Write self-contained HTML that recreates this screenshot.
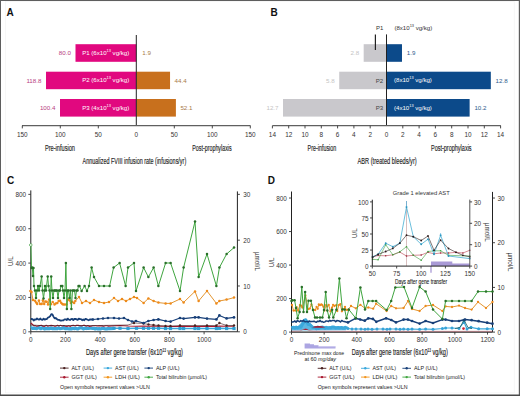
<!DOCTYPE html>
<html><head><meta charset="utf-8"><style>
html,body{margin:0;padding:0;background:#fff;}
svg{display:block;font-family:"Liberation Sans", sans-serif;}
</style></head><body>
<svg width="520" height="396" viewBox="0 0 520 396">
<rect width="520" height="396" fill="#fff"/>
<rect x="5.3" y="1.5" width="508.9" height="391.4" fill="none" stroke="#f2f2f2" stroke-width="0.6"/>
<text x="6.50" y="15.70" font-size="10" fill="#111" text-anchor="start" font-weight="bold">A</text>
<rect x="75.50" y="44.20" width="60.80" height="17.60" fill="#e1087f"/>
<text x="70.90" y="55.20" font-size="6.2" fill="#b8407f" text-anchor="end">80.0</text>
<text x="142.24" y="55.20" font-size="6.2" fill="#a87a48" text-anchor="start">1.9</text>
<text x="129.2" y="54.90" font-size="6.1" fill="#fff" text-anchor="end">P1 (6x10<tspan dy="-3.0" font-size="3.9">13</tspan><tspan dy="3.0"> vg/kg)</tspan></text>
<rect x="46.01" y="71.70" width="90.29" height="17.50" fill="#e1087f"/>
<rect x="136.30" y="71.70" width="33.74" height="17.50" fill="#c8701d"/>
<text x="41.41" y="82.65" font-size="6.2" fill="#b8407f" text-anchor="end">118.8</text>
<text x="174.54" y="82.65" font-size="6.2" fill="#a87a48" text-anchor="start">44.4</text>
<text x="129.2" y="82.35" font-size="6.1" fill="#fff" text-anchor="end">P2 (6x10<tspan dy="-3.0" font-size="3.9">13</tspan><tspan dy="3.0"> vg/kg)</tspan></text>
<rect x="60.00" y="99.00" width="76.30" height="17.60" fill="#e1087f"/>
<rect x="136.30" y="99.00" width="39.60" height="17.60" fill="#c8701d"/>
<text x="55.40" y="110.00" font-size="6.2" fill="#b8407f" text-anchor="end">100.4</text>
<text x="180.40" y="110.00" font-size="6.2" fill="#a87a48" text-anchor="start">52.1</text>
<text x="129.2" y="109.70" font-size="6.1" fill="#fff" text-anchor="end">P3 (4x10<tspan dy="-3.0" font-size="3.9">13</tspan><tspan dy="3.0"> vg/kg)</tspan></text>
<line x1="136.30" y1="35.00" x2="136.30" y2="125.70" stroke="#222" stroke-width="1" />
<line x1="22.00" y1="125.70" x2="250.50" y2="125.70" stroke="#606060" stroke-width="1.3" />
<line x1="22.30" y1="125.70" x2="22.30" y2="128.40" stroke="#333" stroke-width="0.9" />
<text x="22.30" y="137.20" font-size="6.4" fill="#333" text-anchor="middle">150</text>
<line x1="60.30" y1="125.70" x2="60.30" y2="128.40" stroke="#333" stroke-width="0.9" />
<text x="60.30" y="137.20" font-size="6.4" fill="#333" text-anchor="middle">100</text>
<line x1="98.30" y1="125.70" x2="98.30" y2="128.40" stroke="#333" stroke-width="0.9" />
<text x="98.30" y="137.20" font-size="6.4" fill="#333" text-anchor="middle">50</text>
<text x="136.30" y="137.20" font-size="6.4" fill="#333" text-anchor="middle">0</text>
<line x1="174.30" y1="125.70" x2="174.30" y2="128.40" stroke="#333" stroke-width="0.9" />
<text x="174.30" y="137.20" font-size="6.4" fill="#333" text-anchor="middle">50</text>
<line x1="212.30" y1="125.70" x2="212.30" y2="128.40" stroke="#333" stroke-width="0.9" />
<text x="212.30" y="137.20" font-size="6.4" fill="#333" text-anchor="middle">100</text>
<line x1="250.30" y1="125.70" x2="250.30" y2="128.40" stroke="#333" stroke-width="0.9" />
<text x="250.30" y="137.20" font-size="6.4" fill="#333" text-anchor="middle">150</text>
<text x="45.00" y="150.60" font-size="8.3" fill="#222" text-anchor="start" textLength="30" lengthAdjust="spacingAndGlyphs"  stroke="#222" stroke-width="0.15">Pre-infusion</text>
<text x="192.30" y="150.60" font-size="8.3" fill="#222" text-anchor="start" textLength="39.4" lengthAdjust="spacingAndGlyphs"  stroke="#222" stroke-width="0.15">Post-prophylaxis</text>
<text x="82.60" y="163.90" font-size="8.3" fill="#222" text-anchor="start" textLength="103.6" lengthAdjust="spacingAndGlyphs"  stroke="#222" stroke-width="0.15">Annualized FVIII infusion rate (infusions/yr)</text>
<text x="270.40" y="16.00" font-size="10" fill="#111" text-anchor="start" font-weight="bold">B</text>
<rect x="363.68" y="44.20" width="22.82" height="17.60" fill="#c9c8cc"/>
<rect x="386.50" y="44.20" width="15.48" height="17.60" fill="#0c4a8a"/>
<text x="359.18" y="55.20" font-size="6.2" fill="#c4c4c4" text-anchor="end">2.8</text>
<text x="406.79" y="55.20" font-size="6.2" fill="#2c5a8c" text-anchor="start">1.9</text>
<rect x="339.23" y="71.70" width="47.27" height="17.50" fill="#c9c8cc"/>
<rect x="386.50" y="71.70" width="104.32" height="17.50" fill="#0c4a8a"/>
<text x="334.73" y="82.65" font-size="6.2" fill="#c4c4c4" text-anchor="end">5.8</text>
<text x="495.62" y="82.65" font-size="6.2" fill="#2c5a8c" text-anchor="start">12.8</text>
<text x="383.20" y="82.65" font-size="6.1" fill="#444" text-anchor="end">P2</text>
<text x="394" y="82.25" font-size="6.1" fill="#fff">(8x10<tspan dy="-3.0" font-size="3.9">13</tspan><tspan dy="3.0"> vg/kg)</tspan></text>
<rect x="283.00" y="99.00" width="103.50" height="17.60" fill="#c9c8cc"/>
<rect x="386.50" y="99.00" width="83.13" height="17.60" fill="#0c4a8a"/>
<text x="278.50" y="110.00" font-size="6.2" fill="#c4c4c4" text-anchor="end">12.7</text>
<text x="474.43" y="110.00" font-size="6.2" fill="#2c5a8c" text-anchor="start">10.2</text>
<text x="383.20" y="110.00" font-size="6.1" fill="#444" text-anchor="end">P3</text>
<text x="394" y="109.60" font-size="6.1" fill="#fff">(4x10<tspan dy="-3.0" font-size="3.9">13</tspan><tspan dy="3.0"> vg/kg)</tspan></text>
<text x="376.00" y="30.20" font-size="6.0" fill="#333" text-anchor="start">P1</text>
<text x="394.4" y="30.3" font-size="6.1" fill="#333">(8x10<tspan dy="-3.0" font-size="3.9">13</tspan><tspan dy="3.0"> vg/kg)</tspan></text>
<line x1="375.40" y1="34.50" x2="375.40" y2="50.00" stroke="#222" stroke-width="1.2" />
<line x1="386.50" y1="34.40" x2="386.50" y2="125.70" stroke="#222" stroke-width="1" />
<line x1="272.40" y1="125.70" x2="500.80" y2="125.70" stroke="#606060" stroke-width="1.3" />
<line x1="272.40" y1="125.70" x2="272.40" y2="128.40" stroke="#333" stroke-width="0.9" />
<text x="272.40" y="137.20" font-size="6.4" fill="#333" text-anchor="middle">14</text>
<line x1="288.70" y1="125.70" x2="288.70" y2="128.40" stroke="#333" stroke-width="0.9" />
<text x="288.70" y="137.20" font-size="6.4" fill="#333" text-anchor="middle">12</text>
<line x1="305.00" y1="125.70" x2="305.00" y2="128.40" stroke="#333" stroke-width="0.9" />
<text x="305.00" y="137.20" font-size="6.4" fill="#333" text-anchor="middle">10</text>
<line x1="321.30" y1="125.70" x2="321.30" y2="128.40" stroke="#333" stroke-width="0.9" />
<text x="321.30" y="137.20" font-size="6.4" fill="#333" text-anchor="middle">8</text>
<line x1="337.60" y1="125.70" x2="337.60" y2="128.40" stroke="#333" stroke-width="0.9" />
<text x="337.60" y="137.20" font-size="6.4" fill="#333" text-anchor="middle">6</text>
<line x1="353.90" y1="125.70" x2="353.90" y2="128.40" stroke="#333" stroke-width="0.9" />
<text x="353.90" y="137.20" font-size="6.4" fill="#333" text-anchor="middle">4</text>
<line x1="370.20" y1="125.70" x2="370.20" y2="128.40" stroke="#333" stroke-width="0.9" />
<text x="370.20" y="137.20" font-size="6.4" fill="#333" text-anchor="middle">2</text>
<text x="386.50" y="137.20" font-size="6.4" fill="#333" text-anchor="middle">0</text>
<line x1="402.80" y1="125.70" x2="402.80" y2="128.40" stroke="#333" stroke-width="0.9" />
<text x="402.80" y="137.20" font-size="6.4" fill="#333" text-anchor="middle">2</text>
<line x1="419.10" y1="125.70" x2="419.10" y2="128.40" stroke="#333" stroke-width="0.9" />
<text x="419.10" y="137.20" font-size="6.4" fill="#333" text-anchor="middle">4</text>
<line x1="435.40" y1="125.70" x2="435.40" y2="128.40" stroke="#333" stroke-width="0.9" />
<text x="435.40" y="137.20" font-size="6.4" fill="#333" text-anchor="middle">6</text>
<line x1="451.70" y1="125.70" x2="451.70" y2="128.40" stroke="#333" stroke-width="0.9" />
<text x="451.70" y="137.20" font-size="6.4" fill="#333" text-anchor="middle">8</text>
<line x1="468.00" y1="125.70" x2="468.00" y2="128.40" stroke="#333" stroke-width="0.9" />
<text x="468.00" y="137.20" font-size="6.4" fill="#333" text-anchor="middle">10</text>
<line x1="484.30" y1="125.70" x2="484.30" y2="128.40" stroke="#333" stroke-width="0.9" />
<text x="484.30" y="137.20" font-size="6.4" fill="#333" text-anchor="middle">12</text>
<line x1="500.60" y1="125.70" x2="500.60" y2="128.40" stroke="#333" stroke-width="0.9" />
<text x="500.60" y="137.20" font-size="6.4" fill="#333" text-anchor="middle">14</text>
<text x="307.60" y="150.60" font-size="8.3" fill="#222" text-anchor="start" textLength="28.7" lengthAdjust="spacingAndGlyphs"  stroke="#222" stroke-width="0.15">Pre-infusion</text>
<text x="431.00" y="150.60" font-size="8.3" fill="#222" text-anchor="start" textLength="40.6" lengthAdjust="spacingAndGlyphs"  stroke="#222" stroke-width="0.15">Post-prophylaxis</text>
<text x="357.50" y="163.80" font-size="8.3" fill="#222" text-anchor="start" textLength="59.2" lengthAdjust="spacingAndGlyphs"  stroke="#222" stroke-width="0.15">ABR (treated bleeds/yr)</text>
<text x="6.90" y="183.80" font-size="10" fill="#111" text-anchor="start" font-weight="bold">C</text>
<line x1="30.80" y1="190.40" x2="30.80" y2="331.80" stroke="#222" stroke-width="1" />
<line x1="237.40" y1="191.40" x2="237.40" y2="331.80" stroke="#222" stroke-width="1" />
<line x1="30.80" y1="331.80" x2="237.40" y2="331.80" stroke="#2a2a2a" stroke-width="1.1" />
<line x1="28.30" y1="331.80" x2="30.80" y2="331.80" stroke="#333" stroke-width="0.9" />
<text x="26.20" y="334.40" font-size="6.4" fill="#333" text-anchor="end">0</text>
<line x1="28.30" y1="297.44" x2="30.80" y2="297.44" stroke="#333" stroke-width="0.9" />
<text x="26.20" y="300.04" font-size="6.4" fill="#333" text-anchor="end">200</text>
<line x1="28.30" y1="263.08" x2="30.80" y2="263.08" stroke="#333" stroke-width="0.9" />
<text x="26.20" y="265.68" font-size="6.4" fill="#333" text-anchor="end">400</text>
<line x1="28.30" y1="228.72" x2="30.80" y2="228.72" stroke="#333" stroke-width="0.9" />
<text x="26.20" y="231.32" font-size="6.4" fill="#333" text-anchor="end">600</text>
<line x1="28.30" y1="194.36" x2="30.80" y2="194.36" stroke="#333" stroke-width="0.9" />
<text x="26.20" y="196.96" font-size="6.4" fill="#333" text-anchor="end">800</text>
<line x1="237.40" y1="331.80" x2="239.90" y2="331.80" stroke="#333" stroke-width="0.9" />
<text x="243.20" y="334.40" font-size="6.4" fill="#333" text-anchor="start">0</text>
<line x1="237.40" y1="285.99" x2="239.90" y2="285.99" stroke="#333" stroke-width="0.9" />
<text x="243.20" y="288.59" font-size="6.4" fill="#333" text-anchor="start">10</text>
<line x1="237.40" y1="240.17" x2="239.90" y2="240.17" stroke="#333" stroke-width="0.9" />
<text x="243.20" y="242.77" font-size="6.4" fill="#333" text-anchor="start">20</text>
<line x1="237.40" y1="194.36" x2="239.90" y2="194.36" stroke="#333" stroke-width="0.9" />
<text x="243.20" y="196.96" font-size="6.4" fill="#333" text-anchor="start">30</text>
<line x1="30.80" y1="331.80" x2="30.80" y2="334.30" stroke="#333" stroke-width="0.9" />
<text x="30.80" y="341.70" font-size="6.4" fill="#333" text-anchor="middle">0</text>
<line x1="65.46" y1="331.80" x2="65.46" y2="334.30" stroke="#333" stroke-width="0.9" />
<text x="65.46" y="341.70" font-size="6.4" fill="#333" text-anchor="middle">200</text>
<line x1="100.12" y1="331.80" x2="100.12" y2="334.30" stroke="#333" stroke-width="0.9" />
<text x="100.12" y="341.70" font-size="6.4" fill="#333" text-anchor="middle">400</text>
<line x1="134.78" y1="331.80" x2="134.78" y2="334.30" stroke="#333" stroke-width="0.9" />
<text x="134.78" y="341.70" font-size="6.4" fill="#333" text-anchor="middle">600</text>
<line x1="169.44" y1="331.80" x2="169.44" y2="334.30" stroke="#333" stroke-width="0.9" />
<text x="169.44" y="341.70" font-size="6.4" fill="#333" text-anchor="middle">800</text>
<line x1="204.10" y1="331.80" x2="204.10" y2="334.30" stroke="#333" stroke-width="0.9" />
<text x="204.10" y="341.70" font-size="6.4" fill="#333" text-anchor="middle">1000</text>
<text transform="translate(13.2,261.2) rotate(-90)" font-size="6.3" fill="#333" text-anchor="middle">U/L</text>
<text transform="translate(255.2,261.5) rotate(90)" font-size="6.3" fill="#333" text-anchor="middle">&#181;mol/L</text>
<text x="86" y="354.6" font-size="8.3" fill="#222" stroke="#222" stroke-width="0.15" textLength="97" lengthAdjust="spacingAndGlyphs">Days after gene transfer (6x10<tspan dy="-2.6" font-size="4.6">13</tspan><tspan dy="2.6"> vg/kg)</tspan></text>
<polyline points="30.8,328.3 31.5,328.0 32.8,328.4 34.1,328.1 35.4,328.4 36.7,328.5 38.0,327.8 39.3,327.7 40.6,328.7 41.9,328.0 43.2,328.0 44.5,328.9 45.8,328.3 47.1,328.7 48.4,328.3 49.7,328.5 51.0,327.9 52.3,328.5 53.6,328.7 54.9,328.3 56.2,328.6 57.5,328.5 58.8,327.8 60.1,328.6 61.4,328.4 62.7,328.1 64.0,327.7 65.3,328.7 66.6,328.3 67.9,328.6 69.2,328.8 70.5,328.6 71.8,328.8 73.1,328.2 74.4,328.7 75.7,328.2 77.0,328.8 78.3,328.8 79.6,327.8 80.9,327.9 82.2,328.0 83.5,328.9 84.8,328.2 86.1,328.5 87.4,328.1 88.7,328.3 90.0,328.2 91.3,328.1 92.6,328.4 93.9,328.4 95.2,328.8 96.5,328.5 97.8,328.8 99.1,328.7 100.4,328.9 101.7,328.5 103.0,327.9 104.3,328.7 105.6,328.9 106.9,328.8 108.2,328.4 109.5,328.6 114.0,328.3" fill="none" stroke="#3aa8dc" stroke-width="3.3" stroke-linejoin="round" />
<polyline points="114.0,328.3 120.0,328.3 128.0,328.5 136.5,328.3 143.5,328.3 148.5,328.3 153.5,328.3 158.5,328.3 165.5,328.5 170.5,328.5 180.0,328.5 183.6,328.5 195.0,328.5 198.6,328.5 207.0,328.5 216.4,328.5 219.4,328.3 226.6,328.5 234.0,328.5" fill="none" stroke="#3aa8dc" stroke-width="1.6" stroke-linejoin="round" />
<rect x="112.4" y="326.7" width="3.2" height="3.2" fill="#2f9fd3"/>
<rect x="118.4" y="326.7" width="3.2" height="3.2" fill="#2f9fd3"/>
<rect x="126.4" y="326.9" width="3.2" height="3.2" fill="#2f9fd3"/>
<rect x="134.9" y="326.7" width="3.2" height="3.2" fill="#2f9fd3"/>
<rect x="141.9" y="326.7" width="3.2" height="3.2" fill="#2f9fd3"/>
<rect x="146.9" y="326.7" width="3.2" height="3.2" fill="#2f9fd3"/>
<rect x="151.9" y="326.7" width="3.2" height="3.2" fill="#2f9fd3"/>
<rect x="156.9" y="326.7" width="3.2" height="3.2" fill="#2f9fd3"/>
<rect x="163.9" y="326.9" width="3.2" height="3.2" fill="#2f9fd3"/>
<rect x="168.9" y="326.9" width="3.2" height="3.2" fill="#2f9fd3"/>
<rect x="178.4" y="326.9" width="3.2" height="3.2" fill="#2f9fd3"/>
<rect x="182.0" y="326.9" width="3.2" height="3.2" fill="#2f9fd3"/>
<rect x="193.4" y="326.9" width="3.2" height="3.2" fill="#2f9fd3"/>
<rect x="197.0" y="326.9" width="3.2" height="3.2" fill="#2f9fd3"/>
<rect x="205.4" y="326.9" width="3.2" height="3.2" fill="#2f9fd3"/>
<rect x="214.8" y="326.9" width="3.2" height="3.2" fill="#2f9fd3"/>
<rect x="217.8" y="326.7" width="3.2" height="3.2" fill="#2f9fd3"/>
<rect x="225.0" y="326.9" width="3.2" height="3.2" fill="#2f9fd3"/>
<rect x="232.4" y="326.9" width="3.2" height="3.2" fill="#2f9fd3"/>
<polyline points="30.8,323.0 32.0,324.0 34.0,325.8 35.0,325.5 36.6,326.2 38.2,325.9 39.8,325.5 41.4,325.3 43.0,326.2 44.6,326.4 46.2,325.3 47.8,326.2 49.4,325.7 51.0,325.4 52.6,325.6 54.2,326.1 55.8,326.2 57.4,325.3 59.0,325.9 60.6,325.3 62.2,326.1 63.8,325.6 65.4,326.3 67.0,326.4 68.6,325.8 70.2,326.4 71.8,325.6 73.4,325.3 75.0,325.9 76.6,325.2 78.2,325.4 79.8,325.7 81.4,325.9 83.0,325.4 84.6,325.3 86.2,326.2 87.8,325.6 89.4,326.4 91.0,326.3 92.6,325.7 94.2,325.8 95.8,325.8 97.4,326.0 99.0,325.9 100.6,325.9 102.2,325.9 103.8,326.3 105.4,325.8 107.0,325.7 108.6,326.1 114.0,325.8 120.0,325.5 128.0,326.0 136.0,326.3 143.6,326.0 148.4,326.3 153.6,326.0 158.4,326.3 165.6,326.3 170.6,326.5 180.0,326.5 183.6,326.3 195.0,326.5 198.6,326.5 207.0,326.3 216.4,326.5 219.4,326.0 226.6,326.3 234.0,326.3" fill="none" stroke="#a8182f" stroke-width="1.1" stroke-linejoin="round" />
<polyline points="30.8,325.0 40.0,325.5 60.0,325.5 80.0,325.5 100.0,325.5 128.0,325.0 134.0,323.0 143.5,323.5 148.5,324.5 153.5,325.0 158.5,325.5 165.5,326.0 170.5,326.0 180.0,325.5 195.0,325.5 207.0,325.5 216.4,325.5 219.4,323.0 226.6,325.5 234.0,325.5" fill="none" stroke="#3a1d1d" stroke-width="0.6" stroke-linejoin="round" />
<circle cx="134.0" cy="323.0" r="1.2" fill="#4a2420"/>
<circle cx="143.5" cy="323.5" r="1.2" fill="#4a2420"/>
<circle cx="148.5" cy="324.5" r="1.2" fill="#4a2420"/>
<circle cx="153.5" cy="325.0" r="1.2" fill="#4a2420"/>
<circle cx="158.5" cy="325.5" r="1.2" fill="#4a2420"/>
<circle cx="165.5" cy="326.0" r="1.2" fill="#4a2420"/>
<circle cx="170.5" cy="326.0" r="1.2" fill="#4a2420"/>
<circle cx="180.0" cy="325.5" r="1.2" fill="#4a2420"/>
<circle cx="195.0" cy="325.5" r="1.2" fill="#4a2420"/>
<circle cx="207.0" cy="325.5" r="1.2" fill="#4a2420"/>
<circle cx="216.4" cy="325.5" r="1.2" fill="#4a2420"/>
<circle cx="219.4" cy="323.0" r="1.2" fill="#4a2420"/>
<circle cx="226.6" cy="325.5" r="1.2" fill="#4a2420"/>
<circle cx="234.0" cy="325.5" r="1.2" fill="#4a2420"/>
<polyline points="30.8,319.0 31.5,319.0 32.6,319.1 33.7,320.5 34.8,319.5 35.9,319.6 37.0,318.5 38.1,319.3 39.2,319.7 40.3,318.5 41.4,319.7 42.5,319.8 43.6,318.6 44.7,319.7 45.8,319.1 46.9,319.1 48.0,317.5 49.1,317.1 50.2,316.1 51.3,314.1 52.4,314.4 53.5,316.6 54.6,318.4 55.7,318.0 56.8,319.0 57.9,319.8 59.0,319.9 60.1,320.5 61.2,320.6 62.3,320.4 63.4,320.3 64.5,319.3 65.6,319.3 66.7,320.1 67.8,318.6 68.9,319.6 70.0,320.0 71.1,319.1 72.2,318.9 73.3,320.1 74.4,319.0 75.5,318.9 76.6,319.4 77.7,319.9 78.8,318.7 79.9,319.1 81.0,319.2 82.1,320.2 83.2,319.4 84.3,320.2 85.4,318.8 86.5,319.2 87.6,319.8 88.7,320.3 89.8,319.4 93.0,319.5" fill="none" stroke="#173f78" stroke-width="1.8" stroke-linejoin="round" />
<polyline points="93.0,319.5 98.0,319.0 103.0,318.5 108.0,318.0 114.0,318.0 119.0,318.5 124.0,318.0 128.0,320.0 132.0,321.5 136.0,321.0 143.6,323.0 148.4,321.0 153.6,320.0 158.4,319.4 165.6,321.0 170.6,321.6 180.0,318.0 183.6,318.6 195.0,317.4 198.6,317.4 207.0,318.6 216.4,319.4 219.4,315.4 226.6,318.4 234.0,317.4" fill="none" stroke="#173f78" stroke-width="1.1" stroke-linejoin="round" />
<circle cx="93.0" cy="319.5" r="1.35" fill="#173f78"/>
<circle cx="98.0" cy="319.0" r="1.35" fill="#173f78"/>
<circle cx="103.0" cy="318.5" r="1.35" fill="#173f78"/>
<circle cx="108.0" cy="318.0" r="1.35" fill="#173f78"/>
<circle cx="114.0" cy="318.0" r="1.35" fill="#173f78"/>
<circle cx="119.0" cy="318.5" r="1.35" fill="#173f78"/>
<circle cx="124.0" cy="318.0" r="1.35" fill="#173f78"/>
<circle cx="128.0" cy="320.0" r="1.35" fill="#173f78"/>
<circle cx="132.0" cy="321.5" r="1.35" fill="#173f78"/>
<circle cx="136.0" cy="321.0" r="1.35" fill="#173f78"/>
<circle cx="143.6" cy="323.0" r="1.35" fill="#173f78"/>
<circle cx="148.4" cy="321.0" r="1.35" fill="#173f78"/>
<circle cx="153.6" cy="320.0" r="1.35" fill="#173f78"/>
<circle cx="158.4" cy="319.4" r="1.35" fill="#173f78"/>
<circle cx="165.6" cy="321.0" r="1.35" fill="#173f78"/>
<circle cx="170.6" cy="321.6" r="1.35" fill="#173f78"/>
<circle cx="180.0" cy="318.0" r="1.35" fill="#173f78"/>
<circle cx="183.6" cy="318.6" r="1.35" fill="#173f78"/>
<circle cx="195.0" cy="317.4" r="1.35" fill="#173f78"/>
<circle cx="198.6" cy="317.4" r="1.35" fill="#173f78"/>
<circle cx="207.0" cy="318.6" r="1.35" fill="#173f78"/>
<circle cx="216.4" cy="319.4" r="1.35" fill="#173f78"/>
<circle cx="219.4" cy="315.4" r="1.35" fill="#173f78"/>
<circle cx="226.6" cy="318.4" r="1.35" fill="#173f78"/>
<circle cx="234.0" cy="317.4" r="1.35" fill="#173f78"/>
<polyline points="30.4,291.0 31.5,292.0 33.0,300.0 35.0,300.7 36.1,302.4 37.2,303.9 38.9,300.5 40.1,303.9 41.7,303.9 42.9,300.2 44.2,303.9 45.4,301.4 46.7,301.8 48.0,304.6 49.2,299.5 50.9,304.3 52.7,301.9 54.5,304.6 55.7,303.6 57.3,303.1 58.7,301.1 60.0,300.8 61.1,302.7 62.3,304.0 63.3,304.5 64.9,304.6 66.6,304.4 68.1,299.6 69.7,300.4 70.9,303.1 72.3,301.8 74.1,302.9 75.3,300.9 79.0,297.0 82.0,303.0 86.0,301.0 90.0,303.0 94.0,300.0 99.0,302.0 104.0,303.0 109.0,302.0 114.0,298.0 118.0,301.0 122.0,299.0 126.0,301.0 130.0,299.0 134.0,297.0 137.0,298.0 143.6,303.0 148.4,298.4 153.6,301.0 158.4,302.6 165.6,303.4 170.6,303.4 180.0,299.0 183.6,302.4 195.0,291.4 198.6,301.0 207.0,291.0 216.4,303.4 219.4,301.0 226.6,299.6 234.0,297.6" fill="none" stroke="#e39530" stroke-width="1.0" stroke-linejoin="round" />
<circle cx="30.4" cy="291.0" r="1.25" fill="#ee8a1a"/>
<circle cx="31.5" cy="292.0" r="1.25" fill="#ee8a1a"/>
<circle cx="33.0" cy="300.0" r="1.25" fill="#ee8a1a"/>
<circle cx="35.0" cy="300.7" r="1.25" fill="#ee8a1a"/>
<circle cx="36.1" cy="302.4" r="1.25" fill="#ee8a1a"/>
<circle cx="37.2" cy="303.9" r="1.25" fill="#ee8a1a"/>
<circle cx="38.9" cy="300.5" r="1.25" fill="#ee8a1a"/>
<circle cx="40.1" cy="303.9" r="1.25" fill="#ee8a1a"/>
<circle cx="41.7" cy="303.9" r="1.25" fill="#ee8a1a"/>
<circle cx="42.9" cy="300.2" r="1.25" fill="#ee8a1a"/>
<circle cx="44.2" cy="303.9" r="1.25" fill="#ee8a1a"/>
<circle cx="45.4" cy="301.4" r="1.25" fill="#ee8a1a"/>
<circle cx="46.7" cy="301.8" r="1.25" fill="#ee8a1a"/>
<circle cx="48.0" cy="304.6" r="1.25" fill="#ee8a1a"/>
<circle cx="49.2" cy="299.5" r="1.25" fill="#ee8a1a"/>
<circle cx="50.9" cy="304.3" r="1.25" fill="#ee8a1a"/>
<circle cx="52.7" cy="301.9" r="1.25" fill="#ee8a1a"/>
<circle cx="54.5" cy="304.6" r="1.25" fill="#ee8a1a"/>
<circle cx="55.7" cy="303.6" r="1.25" fill="#ee8a1a"/>
<circle cx="57.3" cy="303.1" r="1.25" fill="#ee8a1a"/>
<circle cx="58.7" cy="301.1" r="1.25" fill="#ee8a1a"/>
<circle cx="60.0" cy="300.8" r="1.25" fill="#ee8a1a"/>
<circle cx="61.1" cy="302.7" r="1.25" fill="#ee8a1a"/>
<circle cx="62.3" cy="304.0" r="1.25" fill="#ee8a1a"/>
<circle cx="63.3" cy="304.5" r="1.25" fill="#ee8a1a"/>
<circle cx="64.9" cy="304.6" r="1.25" fill="#ee8a1a"/>
<circle cx="66.6" cy="304.4" r="1.25" fill="#ee8a1a"/>
<circle cx="68.1" cy="299.6" r="1.25" fill="#ee8a1a"/>
<circle cx="69.7" cy="300.4" r="1.25" fill="#ee8a1a"/>
<circle cx="70.9" cy="303.1" r="1.25" fill="#ee8a1a"/>
<circle cx="72.3" cy="301.8" r="1.25" fill="#ee8a1a"/>
<circle cx="74.1" cy="302.9" r="1.25" fill="#ee8a1a"/>
<circle cx="75.3" cy="300.9" r="1.25" fill="#ee8a1a"/>
<circle cx="79.0" cy="297.0" r="1.25" fill="#ee8a1a"/>
<circle cx="82.0" cy="303.0" r="1.25" fill="#ee8a1a"/>
<circle cx="86.0" cy="301.0" r="1.25" fill="#ee8a1a"/>
<circle cx="90.0" cy="303.0" r="1.25" fill="#ee8a1a"/>
<circle cx="94.0" cy="300.0" r="1.25" fill="#ee8a1a"/>
<circle cx="99.0" cy="302.0" r="1.25" fill="#ee8a1a"/>
<circle cx="104.0" cy="303.0" r="1.25" fill="#ee8a1a"/>
<circle cx="109.0" cy="302.0" r="1.25" fill="#ee8a1a"/>
<circle cx="114.0" cy="298.0" r="1.25" fill="#ee8a1a"/>
<circle cx="118.0" cy="301.0" r="1.25" fill="#ee8a1a"/>
<circle cx="122.0" cy="299.0" r="1.25" fill="#ee8a1a"/>
<circle cx="126.0" cy="301.0" r="1.25" fill="#ee8a1a"/>
<circle cx="130.0" cy="299.0" r="1.25" fill="#ee8a1a"/>
<circle cx="134.0" cy="297.0" r="1.25" fill="#ee8a1a"/>
<circle cx="137.0" cy="298.0" r="1.25" fill="#ee8a1a"/>
<circle cx="143.6" cy="303.0" r="1.25" fill="#ee8a1a"/>
<circle cx="148.4" cy="298.4" r="1.25" fill="#ee8a1a"/>
<circle cx="153.6" cy="301.0" r="1.25" fill="#ee8a1a"/>
<circle cx="158.4" cy="302.6" r="1.25" fill="#ee8a1a"/>
<circle cx="165.6" cy="303.4" r="1.25" fill="#ee8a1a"/>
<circle cx="170.6" cy="303.4" r="1.25" fill="#ee8a1a"/>
<circle cx="180.0" cy="299.0" r="1.25" fill="#ee8a1a"/>
<circle cx="183.6" cy="302.4" r="1.25" fill="#ee8a1a"/>
<circle cx="195.0" cy="291.4" r="1.25" fill="#ee8a1a"/>
<circle cx="198.6" cy="301.0" r="1.25" fill="#ee8a1a"/>
<circle cx="207.0" cy="291.0" r="1.25" fill="#ee8a1a"/>
<circle cx="216.4" cy="303.4" r="1.25" fill="#ee8a1a"/>
<circle cx="219.4" cy="301.0" r="1.25" fill="#ee8a1a"/>
<circle cx="226.6" cy="299.6" r="1.25" fill="#ee8a1a"/>
<circle cx="234.0" cy="297.6" r="1.25" fill="#ee8a1a"/>
<polyline points="30.8,245.0 31.5,268.0 32.3,267.6 33.0,276.0 33.5,268.0 34.0,286.0 35.0,290.5 36.0,298.0 37.0,290.5 38.0,286.0 39.0,290.5 40.0,286.0 41.6,276.5 42.5,290.5 43.5,298.5 44.5,290.5 45.0,286.0 46.0,290.5 47.7,276.5 48.5,286.0 49.5,290.5 50.2,308.9 51.2,276.5 52.0,290.5 53.0,298.0 54.0,290.5 55.0,290.5 56.0,290.5 57.0,290.5 58.0,298.0 59.0,290.5 60.0,290.5 61.0,286.0 62.3,286.0 63.0,290.5 64.0,298.0 65.0,290.5 65.9,263.1 66.9,308.9 67.5,290.5 68.5,290.5 69.5,298.0 70.5,290.5 71.4,308.9 72.5,290.5 73.5,290.5 74.5,290.5 75.5,298.0 76.5,290.5 77.5,290.5 78.5,286.0 79.5,286.0 81.6,291.0 84.6,286.0 87.0,291.0 89.0,286.0 91.6,267.6 94.0,277.0 99.0,286.0 104.0,286.0 109.6,286.0 113.6,267.6 119.6,263.0 125.6,286.0 128.0,267.6 134.0,263.0 136.0,291.0 143.6,267.6 148.4,277.0 153.6,267.6 158.4,286.0 165.6,263.0 170.6,263.0 180.0,291.0 183.6,267.6 195.0,221.6 198.6,277.0 207.0,254.0 216.4,286.0 219.4,267.6 226.6,254.0 234.0,247.6" fill="none" stroke="#3fa53f" stroke-width="1.0" stroke-linejoin="round" />
<circle cx="30.8" cy="245.0" r="1.25" fill="#2a702a"/>
<circle cx="31.5" cy="268.0" r="1.25" fill="#2a702a"/>
<circle cx="32.3" cy="267.6" r="1.25" fill="#2a702a"/>
<circle cx="33.0" cy="276.0" r="1.25" fill="#2a702a"/>
<circle cx="33.5" cy="268.0" r="1.25" fill="#2a702a"/>
<circle cx="34.0" cy="286.0" r="1.25" fill="#2a702a"/>
<circle cx="35.0" cy="290.5" r="1.25" fill="#2a702a"/>
<circle cx="36.0" cy="298.0" r="1.25" fill="#2a702a"/>
<circle cx="37.0" cy="290.5" r="1.25" fill="#2a702a"/>
<circle cx="38.0" cy="286.0" r="1.25" fill="#2a702a"/>
<circle cx="39.0" cy="290.5" r="1.25" fill="#2a702a"/>
<circle cx="40.0" cy="286.0" r="1.25" fill="#2a702a"/>
<circle cx="41.6" cy="276.5" r="1.25" fill="#2a702a"/>
<circle cx="42.5" cy="290.5" r="1.25" fill="#2a702a"/>
<circle cx="43.5" cy="298.5" r="1.25" fill="#2a702a"/>
<circle cx="44.5" cy="290.5" r="1.25" fill="#2a702a"/>
<circle cx="45.0" cy="286.0" r="1.25" fill="#2a702a"/>
<circle cx="46.0" cy="290.5" r="1.25" fill="#2a702a"/>
<circle cx="47.7" cy="276.5" r="1.25" fill="#2a702a"/>
<circle cx="48.5" cy="286.0" r="1.25" fill="#2a702a"/>
<circle cx="49.5" cy="290.5" r="1.25" fill="#2a702a"/>
<circle cx="50.2" cy="308.9" r="1.25" fill="#2a702a"/>
<circle cx="51.2" cy="276.5" r="1.25" fill="#2a702a"/>
<circle cx="52.0" cy="290.5" r="1.25" fill="#2a702a"/>
<circle cx="53.0" cy="298.0" r="1.25" fill="#2a702a"/>
<circle cx="54.0" cy="290.5" r="1.25" fill="#2a702a"/>
<circle cx="55.0" cy="290.5" r="1.25" fill="#2a702a"/>
<circle cx="56.0" cy="290.5" r="1.25" fill="#2a702a"/>
<circle cx="57.0" cy="290.5" r="1.25" fill="#2a702a"/>
<circle cx="58.0" cy="298.0" r="1.25" fill="#2a702a"/>
<circle cx="59.0" cy="290.5" r="1.25" fill="#2a702a"/>
<circle cx="60.0" cy="290.5" r="1.25" fill="#2a702a"/>
<circle cx="61.0" cy="286.0" r="1.25" fill="#2a702a"/>
<circle cx="62.3" cy="286.0" r="1.25" fill="#2a702a"/>
<circle cx="63.0" cy="290.5" r="1.25" fill="#2a702a"/>
<circle cx="64.0" cy="298.0" r="1.25" fill="#2a702a"/>
<circle cx="65.0" cy="290.5" r="1.25" fill="#2a702a"/>
<circle cx="65.9" cy="263.1" r="1.25" fill="#2a702a"/>
<circle cx="66.9" cy="308.9" r="1.25" fill="#2a702a"/>
<circle cx="67.5" cy="290.5" r="1.25" fill="#2a702a"/>
<circle cx="68.5" cy="290.5" r="1.25" fill="#2a702a"/>
<circle cx="69.5" cy="298.0" r="1.25" fill="#2a702a"/>
<circle cx="70.5" cy="290.5" r="1.25" fill="#2a702a"/>
<circle cx="71.4" cy="308.9" r="1.25" fill="#2a702a"/>
<circle cx="72.5" cy="290.5" r="1.25" fill="#2a702a"/>
<circle cx="73.5" cy="290.5" r="1.25" fill="#2a702a"/>
<circle cx="74.5" cy="290.5" r="1.25" fill="#2a702a"/>
<circle cx="75.5" cy="298.0" r="1.25" fill="#2a702a"/>
<circle cx="76.5" cy="290.5" r="1.25" fill="#2a702a"/>
<circle cx="77.5" cy="290.5" r="1.25" fill="#2a702a"/>
<circle cx="78.5" cy="286.0" r="1.25" fill="#2a702a"/>
<circle cx="79.5" cy="286.0" r="1.25" fill="#2a702a"/>
<circle cx="81.6" cy="291.0" r="1.25" fill="#2a702a"/>
<circle cx="84.6" cy="286.0" r="1.25" fill="#2a702a"/>
<circle cx="87.0" cy="291.0" r="1.25" fill="#2a702a"/>
<circle cx="89.0" cy="286.0" r="1.25" fill="#2a702a"/>
<circle cx="91.6" cy="267.6" r="1.25" fill="#2a702a"/>
<circle cx="94.0" cy="277.0" r="1.25" fill="#2a702a"/>
<circle cx="99.0" cy="286.0" r="1.25" fill="#2a702a"/>
<circle cx="104.0" cy="286.0" r="1.25" fill="#2a702a"/>
<circle cx="109.6" cy="286.0" r="1.25" fill="#2a702a"/>
<circle cx="113.6" cy="267.6" r="1.25" fill="#2a702a"/>
<circle cx="119.6" cy="263.0" r="1.25" fill="#2a702a"/>
<circle cx="125.6" cy="286.0" r="1.25" fill="#2a702a"/>
<circle cx="128.0" cy="267.6" r="1.25" fill="#2a702a"/>
<circle cx="134.0" cy="263.0" r="1.25" fill="#2a702a"/>
<circle cx="136.0" cy="291.0" r="1.25" fill="#2a702a"/>
<circle cx="143.6" cy="267.6" r="1.25" fill="#2a702a"/>
<circle cx="148.4" cy="277.0" r="1.25" fill="#2a702a"/>
<circle cx="153.6" cy="267.6" r="1.25" fill="#2a702a"/>
<circle cx="158.4" cy="286.0" r="1.25" fill="#2a702a"/>
<circle cx="165.6" cy="263.0" r="1.25" fill="#2a702a"/>
<circle cx="170.6" cy="263.0" r="1.25" fill="#2a702a"/>
<circle cx="180.0" cy="291.0" r="1.25" fill="#2a702a"/>
<circle cx="183.6" cy="267.6" r="1.25" fill="#2a702a"/>
<circle cx="195.0" cy="221.6" r="1.25" fill="#2a702a"/>
<circle cx="198.6" cy="277.0" r="1.25" fill="#2a702a"/>
<circle cx="207.0" cy="254.0" r="1.25" fill="#2a702a"/>
<circle cx="216.4" cy="286.0" r="1.25" fill="#2a702a"/>
<circle cx="219.4" cy="267.6" r="1.25" fill="#2a702a"/>
<circle cx="226.6" cy="254.0" r="1.25" fill="#2a702a"/>
<circle cx="234.0" cy="247.6" r="1.25" fill="#2a702a"/>
<circle cx="30.8" cy="245" r="1.3" fill="#fff" stroke="#3fa53f" stroke-width="0.6"/>
<line x1="60.00" y1="368.10" x2="68.60" y2="368.10" stroke="#4a2020" stroke-width="0.9" />
<circle cx="64.3" cy="368.1" r="1.2" fill="#4a2020"/>
<text x="71.50" y="370.10" font-size="5.6" fill="#222" text-anchor="start" textLength="22.4" lengthAdjust="spacingAndGlyphs">ALT (U/L)</text>
<line x1="103.60" y1="368.10" x2="112.20" y2="368.10" stroke="#3aa8dc" stroke-width="0.9" />
<circle cx="107.9" cy="368.1" r="1.2" fill="#3aa8dc"/>
<text x="115.10" y="370.10" font-size="5.6" fill="#222" text-anchor="start" textLength="23.6" lengthAdjust="spacingAndGlyphs">AST (U/L)</text>
<line x1="144.40" y1="368.10" x2="153.00" y2="368.10" stroke="#173f78" stroke-width="0.9" />
<circle cx="148.7" cy="368.1" r="1.2" fill="#173f78"/>
<text x="155.90" y="370.10" font-size="5.6" fill="#222" text-anchor="start" textLength="23.6" lengthAdjust="spacingAndGlyphs">ALP (U/L)</text>
<line x1="60.00" y1="377.20" x2="68.60" y2="377.20" stroke="#a8182f" stroke-width="0.9" />
<circle cx="64.3" cy="377.2" r="1.2" fill="#a8182f"/>
<text x="71.50" y="379.20" font-size="5.6" fill="#222" text-anchor="start" textLength="25.3" lengthAdjust="spacingAndGlyphs">GGT (U/L)</text>
<line x1="103.60" y1="377.20" x2="112.20" y2="377.20" stroke="#f2961f" stroke-width="0.9" />
<circle cx="107.9" cy="377.2" r="1.2" fill="#f2961f"/>
<text x="115.10" y="379.20" font-size="5.6" fill="#222" text-anchor="start" textLength="24.8" lengthAdjust="spacingAndGlyphs">LDH (U/L)</text>
<line x1="144.40" y1="377.20" x2="153.00" y2="377.20" stroke="#3fa53f" stroke-width="0.9" />
<circle cx="148.7" cy="377.2" r="1.2" fill="#3fa53f"/>
<text x="155.90" y="379.20" font-size="5.6" fill="#222" text-anchor="start" textLength="51.2" lengthAdjust="spacingAndGlyphs">Total bilirubin (&#181;mol/L)</text>
<text x="60.00" y="388.60" font-size="5.6" fill="#222" text-anchor="start" textLength="89.8" lengthAdjust="spacingAndGlyphs">Open symbols represent values &gt;ULN</text>
<text x="267.70" y="183.80" font-size="10" fill="#111" text-anchor="start" font-weight="bold">D</text>
<line x1="291.50" y1="191.50" x2="291.50" y2="332.10" stroke="#222" stroke-width="1" />
<line x1="492.50" y1="191.90" x2="492.50" y2="332.10" stroke="#222" stroke-width="1" />
<line x1="291.50" y1="332.10" x2="492.50" y2="332.10" stroke="#2a2a2a" stroke-width="1.1" />
<line x1="289.00" y1="332.10" x2="291.50" y2="332.10" stroke="#333" stroke-width="0.9" />
<text x="286.80" y="334.70" font-size="6.4" fill="#333" text-anchor="end">0</text>
<line x1="289.00" y1="298.58" x2="291.50" y2="298.58" stroke="#333" stroke-width="0.9" />
<text x="286.80" y="301.18" font-size="6.4" fill="#333" text-anchor="end">200</text>
<line x1="289.00" y1="265.06" x2="291.50" y2="265.06" stroke="#333" stroke-width="0.9" />
<text x="286.80" y="267.66" font-size="6.4" fill="#333" text-anchor="end">400</text>
<line x1="289.00" y1="231.54" x2="291.50" y2="231.54" stroke="#333" stroke-width="0.9" />
<text x="286.80" y="234.14" font-size="6.4" fill="#333" text-anchor="end">600</text>
<line x1="289.00" y1="198.02" x2="291.50" y2="198.02" stroke="#333" stroke-width="0.9" />
<text x="286.80" y="200.62" font-size="6.4" fill="#333" text-anchor="end">800</text>
<line x1="492.50" y1="332.10" x2="495.00" y2="332.10" stroke="#333" stroke-width="0.9" />
<text x="497.40" y="334.70" font-size="6.4" fill="#333" text-anchor="start">0</text>
<line x1="492.50" y1="287.41" x2="495.00" y2="287.41" stroke="#333" stroke-width="0.9" />
<text x="497.40" y="290.01" font-size="6.4" fill="#333" text-anchor="start">10</text>
<line x1="492.50" y1="242.71" x2="495.00" y2="242.71" stroke="#333" stroke-width="0.9" />
<text x="497.40" y="245.31" font-size="6.4" fill="#333" text-anchor="start">20</text>
<line x1="492.50" y1="198.02" x2="495.00" y2="198.02" stroke="#333" stroke-width="0.9" />
<text x="497.40" y="200.62" font-size="6.4" fill="#333" text-anchor="start">30</text>
<line x1="291.50" y1="332.10" x2="291.50" y2="334.60" stroke="#333" stroke-width="0.9" />
<text x="291.50" y="341.90" font-size="6.4" fill="#333" text-anchor="middle">0</text>
<line x1="324.17" y1="332.10" x2="324.17" y2="334.60" stroke="#333" stroke-width="0.9" />
<text x="324.17" y="341.90" font-size="6.4" fill="#333" text-anchor="middle">200</text>
<line x1="356.83" y1="332.10" x2="356.83" y2="334.60" stroke="#333" stroke-width="0.9" />
<text x="356.83" y="341.90" font-size="6.4" fill="#333" text-anchor="middle">400</text>
<line x1="389.50" y1="332.10" x2="389.50" y2="334.60" stroke="#333" stroke-width="0.9" />
<text x="389.50" y="341.90" font-size="6.4" fill="#333" text-anchor="middle">600</text>
<line x1="422.16" y1="332.10" x2="422.16" y2="334.60" stroke="#333" stroke-width="0.9" />
<text x="422.16" y="341.90" font-size="6.4" fill="#333" text-anchor="middle">800</text>
<line x1="454.83" y1="332.10" x2="454.83" y2="334.60" stroke="#333" stroke-width="0.9" />
<text x="454.83" y="341.90" font-size="6.4" fill="#333" text-anchor="middle">1000</text>
<line x1="487.50" y1="332.10" x2="487.50" y2="334.60" stroke="#333" stroke-width="0.9" />
<text x="487.50" y="341.90" font-size="6.4" fill="#333" text-anchor="middle">1200</text>
<text transform="translate(273.5,262.3) rotate(-90)" font-size="6.3" fill="#333" text-anchor="middle">U/L</text>
<text transform="translate(507.8,262) rotate(90)" font-size="6.3" fill="#333" text-anchor="middle">&#181;mol/L</text>
<text x="351.8" y="354.8" font-size="8.3" fill="#222" stroke="#222" stroke-width="0.15" textLength="96" lengthAdjust="spacingAndGlyphs">Days after gene transfer (6x10<tspan dy="-2.6" font-size="4.6">13</tspan><tspan dy="2.6"> vg/kg)</tspan></text>
<path d="M304.6,348.4 L304.6,343.4 L310,343.4 L310,344.3 L314,344.3 L314,345.3 L318.5,345.3 L318.5,346.4 L335.5,346.4 L335.5,348.4 Z" fill="#aca5e2"/>
<path d="M318.5,346.4 L335.5,346.4 L335.5,347.2 L318.5,347.2 Z" fill="#c9c4ee"/>
<text x="294.00" y="355.00" font-size="6.2" fill="#222" text-anchor="start" textLength="50.2" lengthAdjust="spacingAndGlyphs">Prednisone max dose</text>
<text x="304.4" y="360.9" font-size="6.2" fill="#222" textLength="31.6" lengthAdjust="spacingAndGlyphs">at 60 <tspan font-style="italic">mg/day</tspan></text>
<path d="M291.5,330.6 L291.5,326.3 L298,326 L300.5,323.5 L303,320 L305.5,319 L308,320.5 L310.5,323.5 L313,326 L346,326.5 L346,330.3 Z" fill="#5cb6e2"/>
<polyline points="291.5,328.0 292.5,327.5 293.7,327.2 294.9,328.1 296.1,327.0 297.3,327.9 298.5,327.5 299.7,326.9 300.9,327.2 302.1,325.0 303.3,323.1 304.5,320.1 305.7,319.8 306.9,322.0 308.1,324.4 309.3,324.2 310.5,325.1 311.7,326.4 312.9,327.6 314.1,327.4 315.3,327.4 316.5,328.6 317.7,327.0 318.9,328.4 320.1,327.4 321.3,327.2 322.5,327.1 323.7,327.5 324.9,328.4 326.1,327.2 327.3,327.9 328.5,328.1 329.7,327.6 330.9,327.9 332.1,327.0 333.3,327.0 334.5,327.3 335.7,328.1 336.9,327.7 338.1,327.5 339.3,328.0 340.5,327.7 341.7,327.4 342.9,328.3 344.1,328.2 345.3,327.3 346.5,327.9 347.7,327.8" fill="none" stroke="#3aa8dc" stroke-width="3.0" stroke-linejoin="round" />
<polyline points="347.7,327.8 348.0,328.5 352.0,329.0 356.0,329.0 361.0,329.0 365.0,329.3 368.0,329.0 372.0,329.3 377.0,329.0 383.0,329.0 387.0,329.3 390.0,329.0 396.0,329.0 400.0,329.3 403.6,329.0 408.0,329.3 412.0,329.0 419.6,329.3 425.6,329.0 433.0,329.3 442.4,328.5 445.6,328.0 452.0,328.0 459.0,328.5 464.0,322.0 467.0,329.0 471.0,327.3 478.6,328.8 487.2,328.8 492.5,328.8" fill="none" stroke="#3aa8dc" stroke-width="1.2" stroke-linejoin="round" />
<circle cx="348.0" cy="328.5" r="1.5" fill="#36a3d8"/>
<circle cx="352.0" cy="329.0" r="1.5" fill="#36a3d8"/>
<circle cx="356.0" cy="329.0" r="1.5" fill="#36a3d8"/>
<circle cx="361.0" cy="329.0" r="1.5" fill="#36a3d8"/>
<circle cx="365.0" cy="329.3" r="1.5" fill="#36a3d8"/>
<circle cx="368.0" cy="329.0" r="1.5" fill="#36a3d8"/>
<circle cx="372.0" cy="329.3" r="1.5" fill="#36a3d8"/>
<circle cx="377.0" cy="329.0" r="1.5" fill="#36a3d8"/>
<circle cx="383.0" cy="329.0" r="1.5" fill="#36a3d8"/>
<circle cx="387.0" cy="329.3" r="1.5" fill="#36a3d8"/>
<circle cx="390.0" cy="329.0" r="1.5" fill="#36a3d8"/>
<circle cx="396.0" cy="329.0" r="1.5" fill="#36a3d8"/>
<circle cx="400.0" cy="329.3" r="1.5" fill="#36a3d8"/>
<circle cx="403.6" cy="329.0" r="1.5" fill="#36a3d8"/>
<circle cx="408.0" cy="329.3" r="1.5" fill="#36a3d8"/>
<circle cx="412.0" cy="329.0" r="1.5" fill="#36a3d8"/>
<circle cx="419.6" cy="329.3" r="1.5" fill="#36a3d8"/>
<circle cx="425.6" cy="329.0" r="1.5" fill="#36a3d8"/>
<circle cx="433.0" cy="329.3" r="1.5" fill="#36a3d8"/>
<circle cx="442.4" cy="328.5" r="1.5" fill="#36a3d8"/>
<circle cx="445.6" cy="328.0" r="1.5" fill="#36a3d8"/>
<circle cx="452.0" cy="328.0" r="1.5" fill="#36a3d8"/>
<circle cx="459.0" cy="328.5" r="1.5" fill="#36a3d8"/>
<circle cx="464.0" cy="322.0" r="1.5" fill="#36a3d8"/>
<circle cx="467.0" cy="329.0" r="1.5" fill="#36a3d8"/>
<circle cx="471.0" cy="327.3" r="1.5" fill="#36a3d8"/>
<circle cx="478.6" cy="328.8" r="1.5" fill="#36a3d8"/>
<circle cx="487.2" cy="328.8" r="1.5" fill="#36a3d8"/>
<circle cx="492.5" cy="328.8" r="1.5" fill="#36a3d8"/>
<polyline points="291.5,331.2 300.0,331.0 303.0,329.5 306.0,329.0 309.0,330.5 313.0,331.2 340.0,331.3 360.0,331.3 400.0,331.3 440.0,331.3 492.5,331.3" fill="none" stroke="#c05060" stroke-width="0.5" stroke-linejoin="round" />
<path d="M303,329.6 Q305.5,327.8 308.5,329.6 Q305.5,330.4 303,329.6 Z" fill="#a8182f"/>
<path d="M312,327.2 Q318,324.8 325.5,327.2 Q318,328.4 312,327.2 Z" fill="#a8182f"/>
<circle cx="463.5" cy="328.6" r="1.3" fill="#d02030"/>
<polyline points="455.0,328.5 460.0,327.5 464.0,320.0 468.0,327.5 472.0,328.5" fill="none" stroke="#1e5a5a" stroke-width="0.8" stroke-linejoin="round" />
<circle cx="464" cy="320" r="1.3" fill="#1e5a5a"/>
<polyline points="291.5,322.0 292.5,322.1 293.7,321.8 294.9,320.9 296.1,322.3 297.3,320.5 298.5,321.1 299.7,321.8 300.9,320.6 302.1,321.3 303.3,320.4 304.5,321.6 305.7,321.8 306.9,321.4 308.1,322.1 309.3,320.9 310.5,321.7 311.7,321.5 312.9,321.5 314.1,321.2 315.3,322.0 316.5,322.2 317.7,321.2 318.9,321.6 320.1,320.4 321.3,321.7 322.5,321.6 323.7,322.3 324.9,321.9 326.1,320.9 327.3,321.1 328.5,321.6 329.7,320.3 330.9,321.2 332.1,320.6 333.3,320.5 334.5,320.4 335.7,321.8 336.9,320.6 338.1,320.8 339.3,321.1 340.5,322.0 341.7,320.5 342.9,321.2 344.1,321.4 348.0,322.4 355.6,318.3 360.2,319.5 364.8,320.7 368.3,318.3 372.9,318.9 376.3,321.8 386.1,318.3 391.3,320.0 396.0,322.4 403.6,319.6 408.0,319.6 412.0,321.0 419.6,323.6 425.6,321.0 433.0,323.0 442.4,319.6 445.6,319.6 452.0,321.0 459.0,321.0 465.0,319.6 471.6,320.2 478.6,321.2 487.2,322.7 492.5,323.7" fill="none" stroke="#173f78" stroke-width="1.5" stroke-linejoin="round" />
<circle cx="348.0" cy="322.4" r="1.35" fill="#173f78"/>
<circle cx="355.6" cy="318.3" r="1.35" fill="#173f78"/>
<circle cx="360.2" cy="319.5" r="1.35" fill="#173f78"/>
<circle cx="364.8" cy="320.7" r="1.35" fill="#173f78"/>
<circle cx="368.3" cy="318.3" r="1.35" fill="#173f78"/>
<circle cx="372.9" cy="318.9" r="1.35" fill="#173f78"/>
<circle cx="376.3" cy="321.8" r="1.35" fill="#173f78"/>
<circle cx="386.1" cy="318.3" r="1.35" fill="#173f78"/>
<circle cx="391.3" cy="320.0" r="1.35" fill="#173f78"/>
<circle cx="396.0" cy="322.4" r="1.35" fill="#173f78"/>
<circle cx="403.6" cy="319.6" r="1.35" fill="#173f78"/>
<circle cx="408.0" cy="319.6" r="1.35" fill="#173f78"/>
<circle cx="412.0" cy="321.0" r="1.35" fill="#173f78"/>
<circle cx="419.6" cy="323.6" r="1.35" fill="#173f78"/>
<circle cx="425.6" cy="321.0" r="1.35" fill="#173f78"/>
<circle cx="433.0" cy="323.0" r="1.35" fill="#173f78"/>
<circle cx="442.4" cy="319.6" r="1.35" fill="#173f78"/>
<circle cx="445.6" cy="319.6" r="1.35" fill="#173f78"/>
<circle cx="452.0" cy="321.0" r="1.35" fill="#173f78"/>
<circle cx="459.0" cy="321.0" r="1.35" fill="#173f78"/>
<circle cx="465.0" cy="319.6" r="1.35" fill="#173f78"/>
<circle cx="471.6" cy="320.2" r="1.35" fill="#173f78"/>
<circle cx="478.6" cy="321.2" r="1.35" fill="#173f78"/>
<circle cx="487.2" cy="322.7" r="1.35" fill="#173f78"/>
<circle cx="492.5" cy="323.7" r="1.35" fill="#173f78"/>
<polyline points="292.0,305.0 293.5,310.6 295.3,310.5 296.6,307.1 298.0,310.6 299.9,305.1 301.1,305.7 302.3,307.6 305.4,295.5 308.2,309.2 309.8,308.6 311.4,304.4 313.3,309.8 315.2,310.0 316.6,307.0 317.7,308.8 318.8,304.5 320.0,305.2 321.3,304.4 322.3,305.1 323.4,306.7 324.4,310.6 326.1,305.1 327.3,306.6 328.7,304.9 330.5,311.4 332.0,307.6 333.1,304.8 334.4,306.0 336.2,305.2 337.3,311.1 338.8,305.1 340.3,304.2 341.9,311.3 343.7,309.2 345.0,306.8 346.2,309.8 347.7,309.8 351.0,306.0 355.8,308.3 360.4,304.8 365.0,308.3 368.3,307.5 373.2,308.7 376.1,303.7 386.6,311.0 391.2,306.0 396.0,308.3 403.6,308.0 408.0,301.0 412.0,309.0 419.6,311.0 425.6,306.0 433.0,305.0 442.4,311.0 445.6,306.4 452.0,307.0 459.0,305.6 465.0,308.0 471.6,309.6 478.0,302.0 486.0,308.0 492.5,302.0" fill="none" stroke="#e39530" stroke-width="1.0" stroke-linejoin="round" />
<circle cx="292.0" cy="305.0" r="1.15" fill="#ee8a1a"/>
<circle cx="293.5" cy="310.6" r="1.15" fill="#ee8a1a"/>
<circle cx="295.3" cy="310.5" r="1.15" fill="#ee8a1a"/>
<circle cx="296.6" cy="307.1" r="1.15" fill="#ee8a1a"/>
<circle cx="298.0" cy="310.6" r="1.15" fill="#ee8a1a"/>
<circle cx="299.9" cy="305.1" r="1.15" fill="#ee8a1a"/>
<circle cx="301.1" cy="305.7" r="1.15" fill="#ee8a1a"/>
<circle cx="302.3" cy="307.6" r="1.15" fill="#ee8a1a"/>
<circle cx="305.4" cy="295.5" r="1.15" fill="#ee8a1a"/>
<circle cx="308.2" cy="309.2" r="1.15" fill="#ee8a1a"/>
<circle cx="309.8" cy="308.6" r="1.15" fill="#ee8a1a"/>
<circle cx="311.4" cy="304.4" r="1.15" fill="#ee8a1a"/>
<circle cx="313.3" cy="309.8" r="1.15" fill="#ee8a1a"/>
<circle cx="315.2" cy="310.0" r="1.15" fill="#ee8a1a"/>
<circle cx="316.6" cy="307.0" r="1.15" fill="#ee8a1a"/>
<circle cx="317.7" cy="308.8" r="1.15" fill="#ee8a1a"/>
<circle cx="318.8" cy="304.5" r="1.15" fill="#ee8a1a"/>
<circle cx="320.0" cy="305.2" r="1.15" fill="#ee8a1a"/>
<circle cx="321.3" cy="304.4" r="1.15" fill="#ee8a1a"/>
<circle cx="322.3" cy="305.1" r="1.15" fill="#ee8a1a"/>
<circle cx="323.4" cy="306.7" r="1.15" fill="#ee8a1a"/>
<circle cx="324.4" cy="310.6" r="1.15" fill="#ee8a1a"/>
<circle cx="326.1" cy="305.1" r="1.15" fill="#ee8a1a"/>
<circle cx="327.3" cy="306.6" r="1.15" fill="#ee8a1a"/>
<circle cx="328.7" cy="304.9" r="1.15" fill="#ee8a1a"/>
<circle cx="330.5" cy="311.4" r="1.15" fill="#ee8a1a"/>
<circle cx="332.0" cy="307.6" r="1.15" fill="#ee8a1a"/>
<circle cx="333.1" cy="304.8" r="1.15" fill="#ee8a1a"/>
<circle cx="334.4" cy="306.0" r="1.15" fill="#ee8a1a"/>
<circle cx="336.2" cy="305.2" r="1.15" fill="#ee8a1a"/>
<circle cx="337.3" cy="311.1" r="1.15" fill="#ee8a1a"/>
<circle cx="338.8" cy="305.1" r="1.15" fill="#ee8a1a"/>
<circle cx="340.3" cy="304.2" r="1.15" fill="#ee8a1a"/>
<circle cx="341.9" cy="311.3" r="1.15" fill="#ee8a1a"/>
<circle cx="343.7" cy="309.2" r="1.15" fill="#ee8a1a"/>
<circle cx="345.0" cy="306.8" r="1.15" fill="#ee8a1a"/>
<circle cx="346.2" cy="309.8" r="1.15" fill="#ee8a1a"/>
<circle cx="347.7" cy="309.8" r="1.15" fill="#ee8a1a"/>
<circle cx="351.0" cy="306.0" r="1.15" fill="#ee8a1a"/>
<circle cx="355.8" cy="308.3" r="1.15" fill="#ee8a1a"/>
<circle cx="360.4" cy="304.8" r="1.15" fill="#ee8a1a"/>
<circle cx="365.0" cy="308.3" r="1.15" fill="#ee8a1a"/>
<circle cx="368.3" cy="307.5" r="1.15" fill="#ee8a1a"/>
<circle cx="373.2" cy="308.7" r="1.15" fill="#ee8a1a"/>
<circle cx="376.1" cy="303.7" r="1.15" fill="#ee8a1a"/>
<circle cx="386.6" cy="311.0" r="1.15" fill="#ee8a1a"/>
<circle cx="391.2" cy="306.0" r="1.15" fill="#ee8a1a"/>
<circle cx="396.0" cy="308.3" r="1.15" fill="#ee8a1a"/>
<circle cx="403.6" cy="308.0" r="1.15" fill="#ee8a1a"/>
<circle cx="408.0" cy="301.0" r="1.15" fill="#ee8a1a"/>
<circle cx="412.0" cy="309.0" r="1.15" fill="#ee8a1a"/>
<circle cx="419.6" cy="311.0" r="1.15" fill="#ee8a1a"/>
<circle cx="425.6" cy="306.0" r="1.15" fill="#ee8a1a"/>
<circle cx="433.0" cy="305.0" r="1.15" fill="#ee8a1a"/>
<circle cx="442.4" cy="311.0" r="1.15" fill="#ee8a1a"/>
<circle cx="445.6" cy="306.4" r="1.15" fill="#ee8a1a"/>
<circle cx="452.0" cy="307.0" r="1.15" fill="#ee8a1a"/>
<circle cx="459.0" cy="305.6" r="1.15" fill="#ee8a1a"/>
<circle cx="465.0" cy="308.0" r="1.15" fill="#ee8a1a"/>
<circle cx="471.6" cy="309.6" r="1.15" fill="#ee8a1a"/>
<circle cx="478.0" cy="302.0" r="1.15" fill="#ee8a1a"/>
<circle cx="486.0" cy="308.0" r="1.15" fill="#ee8a1a"/>
<circle cx="492.5" cy="302.0" r="1.15" fill="#ee8a1a"/>
<polyline points="291.5,301.0 292.5,300.3 294.6,300.3 296.0,308.0 297.6,318.2 299.6,312.0 301.8,287.1 303.5,312.0 305.1,291.9 307.0,312.0 308.5,300.7 310.9,300.7 313.0,310.0 315.0,317.6 317.0,317.6 320.0,317.6 322.4,317.6 324.0,310.0 325.7,291.9 327.3,310.4 329.0,317.6 332.1,309.8 333.3,317.6 336.4,309.8 339.4,278.6 342.4,309.5 344.7,309.5 346.5,318.2 348.8,309.5 355.8,318.2 360.4,287.4 365.0,309.5 368.3,301.0 372.6,301.0 376.1,301.0 386.6,310.0 391.2,301.0 395.3,287.4 404.0,287.0 412.0,308.0 419.6,287.0 425.6,291.6 433.0,309.6 442.4,319.0 445.6,301.0 452.0,301.0 459.0,301.0 465.0,301.0 471.6,301.0 478.0,291.6 486.0,291.6 492.5,291.6" fill="none" stroke="#3fa53f" stroke-width="1.0" stroke-linejoin="round" />
<circle cx="291.5" cy="301.0" r="1.25" fill="#2a702a"/>
<circle cx="292.5" cy="300.3" r="1.25" fill="#2a702a"/>
<circle cx="294.6" cy="300.3" r="1.25" fill="#2a702a"/>
<circle cx="296.0" cy="308.0" r="1.25" fill="#2a702a"/>
<circle cx="297.6" cy="318.2" r="1.25" fill="#2a702a"/>
<circle cx="299.6" cy="312.0" r="1.25" fill="#2a702a"/>
<circle cx="301.8" cy="287.1" r="1.25" fill="#2a702a"/>
<circle cx="303.5" cy="312.0" r="1.25" fill="#2a702a"/>
<circle cx="305.1" cy="291.9" r="1.25" fill="#2a702a"/>
<circle cx="307.0" cy="312.0" r="1.25" fill="#2a702a"/>
<circle cx="308.5" cy="300.7" r="1.25" fill="#2a702a"/>
<circle cx="310.9" cy="300.7" r="1.25" fill="#2a702a"/>
<circle cx="313.0" cy="310.0" r="1.25" fill="#2a702a"/>
<circle cx="315.0" cy="317.6" r="1.25" fill="#2a702a"/>
<circle cx="317.0" cy="317.6" r="1.25" fill="#2a702a"/>
<circle cx="320.0" cy="317.6" r="1.25" fill="#2a702a"/>
<circle cx="322.4" cy="317.6" r="1.25" fill="#2a702a"/>
<circle cx="324.0" cy="310.0" r="1.25" fill="#2a702a"/>
<circle cx="325.7" cy="291.9" r="1.25" fill="#2a702a"/>
<circle cx="327.3" cy="310.4" r="1.25" fill="#2a702a"/>
<circle cx="329.0" cy="317.6" r="1.25" fill="#2a702a"/>
<circle cx="332.1" cy="309.8" r="1.25" fill="#2a702a"/>
<circle cx="333.3" cy="317.6" r="1.25" fill="#2a702a"/>
<circle cx="336.4" cy="309.8" r="1.25" fill="#2a702a"/>
<circle cx="339.4" cy="278.6" r="1.25" fill="#2a702a"/>
<circle cx="342.4" cy="309.5" r="1.25" fill="#2a702a"/>
<circle cx="344.7" cy="309.5" r="1.25" fill="#2a702a"/>
<circle cx="346.5" cy="318.2" r="1.25" fill="#2a702a"/>
<circle cx="348.8" cy="309.5" r="1.25" fill="#2a702a"/>
<circle cx="355.8" cy="318.2" r="1.25" fill="#2a702a"/>
<circle cx="360.4" cy="287.4" r="1.25" fill="#2a702a"/>
<circle cx="365.0" cy="309.5" r="1.25" fill="#2a702a"/>
<circle cx="368.3" cy="301.0" r="1.25" fill="#2a702a"/>
<circle cx="372.6" cy="301.0" r="1.25" fill="#2a702a"/>
<circle cx="376.1" cy="301.0" r="1.25" fill="#2a702a"/>
<circle cx="386.6" cy="310.0" r="1.25" fill="#2a702a"/>
<circle cx="391.2" cy="301.0" r="1.25" fill="#2a702a"/>
<circle cx="395.3" cy="287.4" r="1.25" fill="#2a702a"/>
<circle cx="404.0" cy="287.0" r="1.25" fill="#2a702a"/>
<circle cx="412.0" cy="308.0" r="1.25" fill="#2a702a"/>
<circle cx="419.6" cy="287.0" r="1.25" fill="#2a702a"/>
<circle cx="425.6" cy="291.6" r="1.25" fill="#2a702a"/>
<circle cx="433.0" cy="309.6" r="1.25" fill="#2a702a"/>
<circle cx="442.4" cy="319.0" r="1.25" fill="#2a702a"/>
<circle cx="445.6" cy="301.0" r="1.25" fill="#2a702a"/>
<circle cx="452.0" cy="301.0" r="1.25" fill="#2a702a"/>
<circle cx="459.0" cy="301.0" r="1.25" fill="#2a702a"/>
<circle cx="465.0" cy="301.0" r="1.25" fill="#2a702a"/>
<circle cx="471.6" cy="301.0" r="1.25" fill="#2a702a"/>
<circle cx="478.0" cy="291.6" r="1.25" fill="#2a702a"/>
<circle cx="486.0" cy="291.6" r="1.25" fill="#2a702a"/>
<circle cx="492.5" cy="291.6" r="1.25" fill="#2a702a"/>
<line x1="317.70" y1="368.30" x2="326.30" y2="368.30" stroke="#4a2020" stroke-width="0.9" />
<circle cx="322.0" cy="368.3" r="1.2" fill="#4a2020"/>
<text x="329.20" y="370.30" font-size="5.6" fill="#222" text-anchor="start" textLength="22.4" lengthAdjust="spacingAndGlyphs">ALT (U/L)</text>
<line x1="361.00" y1="368.30" x2="369.60" y2="368.30" stroke="#3aa8dc" stroke-width="0.9" />
<circle cx="365.3" cy="368.3" r="1.2" fill="#3aa8dc"/>
<text x="372.50" y="370.30" font-size="5.6" fill="#222" text-anchor="start" textLength="23.6" lengthAdjust="spacingAndGlyphs">AST (U/L)</text>
<line x1="402.40" y1="368.30" x2="411.00" y2="368.30" stroke="#173f78" stroke-width="0.9" />
<circle cx="406.7" cy="368.3" r="1.2" fill="#173f78"/>
<text x="413.90" y="370.30" font-size="5.6" fill="#222" text-anchor="start" textLength="23.6" lengthAdjust="spacingAndGlyphs">ALP (U/L)</text>
<line x1="317.70" y1="377.10" x2="326.30" y2="377.10" stroke="#a8182f" stroke-width="0.9" />
<circle cx="322.0" cy="377.1" r="1.2" fill="#a8182f"/>
<text x="329.20" y="379.10" font-size="5.6" fill="#222" text-anchor="start" textLength="25.3" lengthAdjust="spacingAndGlyphs">GGT (U/L)</text>
<line x1="361.00" y1="377.10" x2="369.60" y2="377.10" stroke="#f2961f" stroke-width="0.9" />
<circle cx="365.3" cy="377.1" r="1.2" fill="#f2961f"/>
<text x="372.50" y="379.10" font-size="5.6" fill="#222" text-anchor="start" textLength="24.8" lengthAdjust="spacingAndGlyphs">LDH (U/L)</text>
<line x1="402.40" y1="377.10" x2="411.00" y2="377.10" stroke="#3fa53f" stroke-width="0.9" />
<circle cx="406.7" cy="377.1" r="1.2" fill="#3fa53f"/>
<text x="413.90" y="379.10" font-size="5.6" fill="#222" text-anchor="start" textLength="51.2" lengthAdjust="spacingAndGlyphs">Total bilirubin (&#181;mol/L)</text>
<text x="317.70" y="388.50" font-size="5.6" fill="#222" text-anchor="start" textLength="89.8" lengthAdjust="spacingAndGlyphs">Open symbols represent values &gt;ULN</text>
<rect x="355.00" y="185.00" width="126.00" height="100.00" fill="#fff"/>
<text x="392.80" y="194.90" font-size="6.1" fill="#333" text-anchor="start" textLength="56.9" lengthAdjust="spacingAndGlyphs">Grade 1 elevated AST</text>
<path d="M431,266.1 L431,261.4 L452.3,261.4 L452.3,263.6 L469.8,263.6 L469.8,266.1 Z" fill="#a99ad6"/>
<line x1="431.00" y1="266.10" x2="431.00" y2="272.70" stroke="#a99ad6" stroke-width="1.3" />
<line x1="406.50" y1="201.00" x2="406.50" y2="266.10" stroke="#a87070" stroke-width="0.45" />
<polyline points="372.6,256.8 378.1,255.5 385.7,255.8 392.8,254.8 399.8,252.1 406.5,256.0 413.3,255.3 421.2,255.0 428.0,252.3 434.0,253.8 440.6,253.0 448.5,253.0 456.0,252.3 462.9,253.0 469.7,250.3" fill="none" stroke="#b8404f" stroke-width="0.6" stroke-linejoin="round" />
<circle cx="372.6" cy="256.8" r="0.8" fill="#9a2838"/>
<circle cx="378.1" cy="255.5" r="0.8" fill="#9a2838"/>
<circle cx="385.7" cy="255.8" r="0.8" fill="#9a2838"/>
<circle cx="392.8" cy="254.8" r="0.8" fill="#9a2838"/>
<circle cx="399.8" cy="252.1" r="0.8" fill="#9a2838"/>
<circle cx="406.5" cy="256.0" r="0.8" fill="#9a2838"/>
<circle cx="413.3" cy="255.3" r="0.8" fill="#9a2838"/>
<circle cx="421.2" cy="255.0" r="0.8" fill="#9a2838"/>
<circle cx="428.0" cy="252.3" r="0.8" fill="#9a2838"/>
<circle cx="434.0" cy="253.8" r="0.8" fill="#9a2838"/>
<circle cx="440.6" cy="253.0" r="0.8" fill="#9a2838"/>
<circle cx="448.5" cy="253.0" r="0.8" fill="#9a2838"/>
<circle cx="456.0" cy="252.3" r="0.8" fill="#9a2838"/>
<circle cx="462.9" cy="253.0" r="0.8" fill="#9a2838"/>
<circle cx="469.7" cy="250.3" r="0.8" fill="#9a2838"/>
<polyline points="372.6,259.3 378.1,259.8 385.7,244.7 392.8,254.8 399.8,251.8 406.5,246.7 413.3,255.3 421.2,260.2 428.0,251.5 434.0,250.8 440.6,250.8 448.5,255.3 469.7,256.0" fill="none" stroke="#3f9f3f" stroke-width="0.6" stroke-linejoin="round" />
<circle cx="372.6" cy="259.3" r="0.8" fill="#3f9f3f"/>
<circle cx="378.1" cy="259.8" r="0.8" fill="#3f9f3f"/>
<circle cx="385.7" cy="244.7" r="0.8" fill="#3f9f3f"/>
<circle cx="392.8" cy="254.8" r="0.8" fill="#3f9f3f"/>
<circle cx="399.8" cy="251.8" r="0.8" fill="#3f9f3f"/>
<circle cx="406.5" cy="246.7" r="0.8" fill="#3f9f3f"/>
<circle cx="413.3" cy="255.3" r="0.8" fill="#3f9f3f"/>
<circle cx="421.2" cy="260.2" r="0.8" fill="#3f9f3f"/>
<circle cx="428.0" cy="251.5" r="0.8" fill="#3f9f3f"/>
<circle cx="434.0" cy="250.8" r="0.8" fill="#3f9f3f"/>
<circle cx="440.6" cy="250.8" r="0.8" fill="#3f9f3f"/>
<circle cx="448.5" cy="255.3" r="0.8" fill="#3f9f3f"/>
<circle cx="469.7" cy="256.0" r="0.8" fill="#3f9f3f"/>
<polyline points="372.6,256.8 378.1,254.3 385.7,243.2 392.8,246.7 399.8,243.2 406.5,207.0 413.3,236.7 421.2,244.3 428.0,239.2 434.0,254.3 440.6,235.3 448.5,256.0 469.7,258.6" fill="none" stroke="#3aaad0" stroke-width="0.75" stroke-linejoin="round" />
<circle cx="372.6" cy="256.8" r="0.95" fill="#2a94bc"/>
<circle cx="378.1" cy="254.3" r="0.95" fill="#2a94bc"/>
<circle cx="385.7" cy="243.2" r="0.95" fill="#2a94bc"/>
<circle cx="392.8" cy="246.7" r="0.95" fill="#2a94bc"/>
<circle cx="399.8" cy="243.2" r="0.95" fill="#2a94bc"/>
<circle cx="406.5" cy="207.0" r="0.95" fill="#2a94bc"/>
<circle cx="413.3" cy="236.7" r="0.95" fill="#2a94bc"/>
<circle cx="421.2" cy="244.3" r="0.95" fill="#2a94bc"/>
<circle cx="428.0" cy="239.2" r="0.95" fill="#2a94bc"/>
<circle cx="434.0" cy="254.3" r="0.95" fill="#2a94bc"/>
<circle cx="440.6" cy="235.3" r="0.95" fill="#2a94bc"/>
<circle cx="448.5" cy="256.0" r="0.95" fill="#2a94bc"/>
<circle cx="469.7" cy="258.6" r="0.95" fill="#2a94bc"/>
<polyline points="372.6,257.3 378.1,254.3 385.7,251.5 392.8,248.4 399.8,243.2 406.5,235.2 413.3,236.7 421.2,240.5 428.0,236.0 434.0,250.3 440.6,240.2 448.5,248.5 456.0,252.3 462.9,255.3 469.7,256.8" fill="none" stroke="#2a1a1a" stroke-width="0.6" stroke-linejoin="round" />
<circle cx="372.6" cy="257.3" r="0.9" fill="#2a1a1a"/>
<circle cx="378.1" cy="254.3" r="0.9" fill="#2a1a1a"/>
<circle cx="385.7" cy="251.5" r="0.9" fill="#2a1a1a"/>
<circle cx="392.8" cy="248.4" r="0.9" fill="#2a1a1a"/>
<circle cx="399.8" cy="243.2" r="0.9" fill="#2a1a1a"/>
<circle cx="406.5" cy="235.2" r="0.9" fill="#2a1a1a"/>
<circle cx="413.3" cy="236.7" r="0.9" fill="#2a1a1a"/>
<circle cx="421.2" cy="240.5" r="0.9" fill="#2a1a1a"/>
<circle cx="428.0" cy="236.0" r="0.9" fill="#2a1a1a"/>
<circle cx="434.0" cy="250.3" r="0.9" fill="#2a1a1a"/>
<circle cx="440.6" cy="240.2" r="0.9" fill="#2a1a1a"/>
<circle cx="448.5" cy="248.5" r="0.9" fill="#2a1a1a"/>
<circle cx="456.0" cy="252.3" r="0.9" fill="#2a1a1a"/>
<circle cx="462.9" cy="255.3" r="0.9" fill="#2a1a1a"/>
<circle cx="469.7" cy="256.8" r="0.9" fill="#2a1a1a"/>
<line x1="406.50" y1="201.00" x2="406.50" y2="207.00" stroke="#3aa8dc" stroke-width="0.6" />
<line x1="440.60" y1="233.00" x2="440.60" y2="235.30" stroke="#3aa8dc" stroke-width="0.6" />
<line x1="372.30" y1="199.70" x2="372.30" y2="266.10" stroke="#222" stroke-width="1" />
<line x1="469.80" y1="199.60" x2="469.80" y2="266.10" stroke="#555" stroke-width="1" />
<line x1="372.30" y1="266.10" x2="469.80" y2="266.10" stroke="#222" stroke-width="1" />
<line x1="370.00" y1="266.10" x2="372.30" y2="266.10" stroke="#333" stroke-width="0.9" />
<text x="368.60" y="268.70" font-size="6.4" fill="#333" text-anchor="end">0</text>
<line x1="370.00" y1="250.05" x2="372.30" y2="250.05" stroke="#333" stroke-width="0.9" />
<text x="368.60" y="252.65" font-size="6.4" fill="#333" text-anchor="end">25</text>
<line x1="370.00" y1="234.00" x2="372.30" y2="234.00" stroke="#333" stroke-width="0.9" />
<text x="368.60" y="236.60" font-size="6.4" fill="#333" text-anchor="end">50</text>
<line x1="370.00" y1="217.95" x2="372.30" y2="217.95" stroke="#333" stroke-width="0.9" />
<text x="368.60" y="220.55" font-size="6.4" fill="#333" text-anchor="end">75</text>
<line x1="370.00" y1="201.90" x2="372.30" y2="201.90" stroke="#333" stroke-width="0.9" />
<text x="368.60" y="204.50" font-size="6.4" fill="#333" text-anchor="end">100</text>
<line x1="469.80" y1="266.10" x2="472.10" y2="266.10" stroke="#333" stroke-width="0.9" />
<text x="474.00" y="268.70" font-size="6.4" fill="#333" text-anchor="start">0</text>
<line x1="469.80" y1="244.70" x2="472.10" y2="244.70" stroke="#333" stroke-width="0.9" />
<text x="474.00" y="247.30" font-size="6.4" fill="#333" text-anchor="start">10</text>
<line x1="469.80" y1="223.30" x2="472.10" y2="223.30" stroke="#333" stroke-width="0.9" />
<text x="474.00" y="225.90" font-size="6.4" fill="#333" text-anchor="start">20</text>
<line x1="469.80" y1="201.90" x2="472.10" y2="201.90" stroke="#333" stroke-width="0.9" />
<text x="474.00" y="204.50" font-size="6.4" fill="#333" text-anchor="start">30</text>
<line x1="372.30" y1="266.10" x2="372.30" y2="268.50" stroke="#333" stroke-width="0.9" />
<text x="372.30" y="276.40" font-size="6.4" fill="#333" text-anchor="middle">50</text>
<line x1="396.67" y1="266.10" x2="396.67" y2="268.50" stroke="#333" stroke-width="0.9" />
<text x="396.67" y="276.40" font-size="6.4" fill="#333" text-anchor="middle">75</text>
<line x1="421.04" y1="266.10" x2="421.04" y2="268.50" stroke="#333" stroke-width="0.9" />
<text x="421.04" y="276.40" font-size="6.4" fill="#333" text-anchor="middle">100</text>
<line x1="445.41" y1="266.10" x2="445.41" y2="268.50" stroke="#333" stroke-width="0.9" />
<text x="445.41" y="276.40" font-size="6.4" fill="#333" text-anchor="middle">125</text>
<line x1="469.78" y1="266.10" x2="469.78" y2="268.50" stroke="#333" stroke-width="0.9" />
<text x="469.78" y="276.40" font-size="6.4" fill="#333" text-anchor="middle">150</text>
<text transform="translate(356.6,233.2) rotate(-90)" font-size="6.3" fill="#333" text-anchor="middle">U/L</text>
<text transform="translate(484.9,232.3) rotate(90)" font-size="6.3" fill="#333" text-anchor="middle">&#181;mol/L</text>
<text x="394.9" y="283.9" font-size="7.2" fill="#222" stroke="#222" stroke-width="0.12" textLength="52.3" lengthAdjust="spacingAndGlyphs">Days after gene transfer</text>
<rect x="0.00" y="0.00" width="520.00" height="1.00" fill="#5e5e5e"/>
<rect x="0.00" y="0.00" width="1.00" height="396.00" fill="#5e5e5e"/>
<rect x="518.80" y="0.00" width="1.20" height="396.00" fill="#5e5e5e"/>
<rect x="0.00" y="394.50" width="520.00" height="1.50" fill="#4a4a4a"/>
</svg></body></html>
